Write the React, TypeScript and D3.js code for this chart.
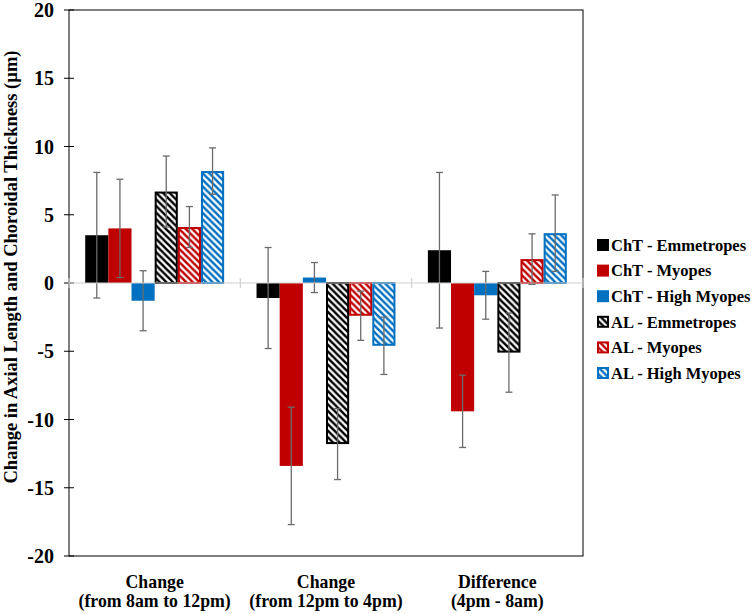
import { useEffect, useRef } from 'react';
import * as d3 from 'd3';

const W = 753, H = 614;
const M = { left: 69, right: 583, top: 10, bottom: 556 };

const categories = [
  ['Change', '(from 8am to 12pm)'],
  ['Change', '(from 12pm to 4pm)'],
  ['Difference', '(4pm - 8am)'],
];
const seriesNames = [
  'ChT - Emmetropes',
  'ChT - Myopes',
  'ChT - High Myopes',
  'AL - Emmetropes',
  'AL - Myopes',
  'AL - High Myopes',
];
const seriesColors = ['#000000', '#C00000', '#0070C0', '#000000', '#C00000', '#0070C0'];
const seriesHatched = [false, false, false, true, true, true];

// means per category, then the +/- error for each
const chtEmm = [3.5, -1.1, 2.4];
const chtEmmErr = [4.6, 3.7, 5.7];
const chtMy = [4.0, -13.4, -9.4];
const chtMyErr = [3.6, 4.3, 2.65];
const chtHigh = [-1.3, 0.4, -0.9];
const chtHighErr = [2.2, 1.1, 1.75];
const alEmm = [6.7, -11.8, -5.1];
const alEmmErr = [2.6, 2.6, 2.9];
const alMy = [4.1, -2.4, 1.75];
const alMyErr = [1.5, 1.8, 1.85];
const alHigh = [8.2, -4.6, 3.65];
const alHighErr = [1.7, 2.1, 2.8];

const yTicks = [-20, -15, -10, -5, 0, 5, 10, 15, 20];

const FONT = '"Liberation Serif", "Times New Roman", serif';

export default function App() {
  const svgRef = useRef<SVGSVGElement>(null);

  useEffect(() => {
    const svg = d3.select(svgRef.current);
    svg.selectAll('*').remove();

    const means = [chtEmm, chtMy, chtHigh, alEmm, alMy, alHigh];
    const errs = [chtEmmErr, chtMyErr, chtHighErr, alEmmErr, alMyErr, alHighErr];

    const y = d3.scaleLinear().domain([-20, 20]).range([M.bottom, M.top]);
    const x0 = d3
      .scaleBand<number>()
      .domain(d3.range(categories.length))
      .range([M.left, M.right])
      .padding(0);
    const x1 = d3
      .scaleBand<number>()
      .domain(d3.range(seriesNames.length))
      .range([0, x0.bandwidth()])
      .paddingInner(0)
      .paddingOuter(0.7);

    // hatch patterns ("\" stripes)
    const defs = svg.append('defs');
    const hp = 6.6;
    seriesColors.forEach((c, i) => {
      if (!seriesHatched[i]) return;
      const p = defs
        .append('pattern')
        .attr('id', `hatch${i}`)
        .attr('patternUnits', 'userSpaceOnUse')
        .attr('width', hp)
        .attr('height', hp);
      p.append('rect').attr('width', hp).attr('height', hp).attr('fill', '#fff');
      p.append('path')
        .attr(
          'd',
          `M-1,-1 L${hp + 1},${hp + 1} M${-hp - 1},-1 L1,${hp + 1} M${hp - 1},-1 L${2 * hp + 1},${hp + 1}`
        )
        .attr('stroke', c)
        .attr('stroke-width', 2.5);
    });

    // frame
    svg
      .append('rect')
      .attr('x', M.left)
      .attr('y', M.top)
      .attr('width', M.right - M.left)
      .attr('height', M.bottom - M.top)
      .attr('fill', 'none')
      .attr('stroke', '#000')
      .attr('stroke-width', 1);

    // y ticks
    const yAxis = svg.append('g').attr('font-family', FONT).attr('font-weight', 'bold');
    yTicks.forEach((t) => {
      yAxis
        .append('line')
        .attr('x1', M.left - 5)
        .attr('x2', M.left + 5)
        .attr('y1', y(t))
        .attr('y2', y(t))
        .attr('stroke', '#000');
      yAxis
        .append('text')
        .attr('x', 54)
        .attr('y', y(t))
        .attr('dy', '0.35em')
        .attr('text-anchor', 'end')
        .attr('font-size', 20)
        .text(t);
    });

    svg
      .append('text')
      .attr('transform', `translate(17,267) rotate(-90)`)
      .attr('text-anchor', 'middle')
      .attr('font-family', FONT)
      .attr('font-weight', 'bold')
      .attr('font-size', 18.5)
      .text('Change in Axial Length and Choroidal Thickness (µm)');

    // bars
    const groups = svg
      .selectAll('.grp')
      .data(categories)
      .join('g')
      .attr('class', 'grp')
      .attr('transform', (_d, i) => `translate(${x0(i)},0)`);

    groups.each(function (_c, ci) {
      const g = d3.select(this);
      seriesNames.forEach((_s, si) => {
        const v = means[si][ci];
        const bx = x1(si)!;
        const bw = x1.bandwidth();
        const top = y(Math.max(0, v));
        const h = Math.abs(y(v) - y(0));
        if (seriesHatched[si]) {
          g.append('rect')
            .attr('x', bx + 1)
            .attr('y', top + (v >= 0 ? 1 : 0))
            .attr('width', bw - 2)
            .attr('height', Math.max(0, h - 1))
            .attr('fill', `url(#hatch${si})`)
            .attr('stroke', seriesColors[si])
            .attr('stroke-width', 2);
        } else {
          g.append('rect')
            .attr('x', bx)
            .attr('y', top)
            .attr('width', bw)
            .attr('height', h)
            .attr('fill', seriesColors[si]);
        }
      });
    });

    // zero line with category ticks
    svg
      .append('line')
      .attr('x1', M.left)
      .attr('x2', M.right)
      .attr('y1', y(0))
      .attr('y2', y(0))
      .attr('stroke', '#d0d0d0')
      .attr('stroke-width', 1.2);
    d3.range(categories.length + 1).forEach((i) => {
      const xx = M.left + i * x0.step();
      svg
        .append('line')
        .attr('x1', xx)
        .attr('x2', xx)
        .attr('y1', y(0) - 5)
        .attr('y2', y(0) + 5)
        .attr('stroke', '#d0d0d0')
        .attr('stroke-width', 1.2);
    });

    // error bars
    groups.each(function (_c, ci) {
      const g = d3.select(this);
      seriesNames.forEach((_s, si) => {
        const v = means[si][ci];
        const e = errs[si][ci];
        const cx = x1(si)! + x1.bandwidth() / 2;
        const eb = g.append('g').attr('stroke', '#6b6b6b').attr('stroke-width', 1.3);
        eb.append('line').attr('x1', cx).attr('x2', cx).attr('y1', y(v + e)).attr('y2', y(v - e));
        [v + e, v - e].forEach((yy) => {
          eb.append('line')
            .attr('x1', cx - 3.5)
            .attr('x2', cx + 3.5)
            .attr('y1', y(yy))
            .attr('y2', y(yy));
        });
      });
    });

    // category labels
    const xl = svg
      .append('g')
      .attr('font-family', FONT)
      .attr('font-weight', 'bold')
      .attr('font-size', 17.8)
      .attr('text-anchor', 'middle');
    categories.forEach((lines, i) => {
      const cx = x0(i)! + x0.bandwidth() / 2;
      lines.forEach((t, li) => {
        xl.append('text')
          .attr('x', cx)
          .attr('y', 588 + li * 19)
          .text(t);
      });
    });

    // legend
    const lg = svg
      .append('g')
      .attr('font-family', FONT)
      .attr('font-weight', 'bold')
      .attr('font-size', 16.5);
    seriesNames.forEach((s, i) => {
      const cy = 245 + i * 25.6;
      if (seriesHatched[i]) {
        lg.append('rect')
          .attr('x', 598)
          .attr('y', cy - 5)
          .attr('width', 10)
          .attr('height', 10)
          .attr('fill', `url(#hatch${i})`)
          .attr('stroke', seriesColors[i])
          .attr('stroke-width', 2);
      } else {
        lg.append('rect')
          .attr('x', 597)
          .attr('y', cy - 6)
          .attr('width', 12)
          .attr('height', 12)
          .attr('fill', seriesColors[i]);
      }
      lg.append('text')
        .attr('x', 611)
        .attr('y', cy)
        .attr('dy', '0.35em')
        .text(s);
    });
  }, []);

  return (
    <svg
      ref={svgRef}
      width={W}
      height={H}
      style={{ position: 'absolute', left: 0, top: 0, background: '#fff' }}
    />
  );
}
